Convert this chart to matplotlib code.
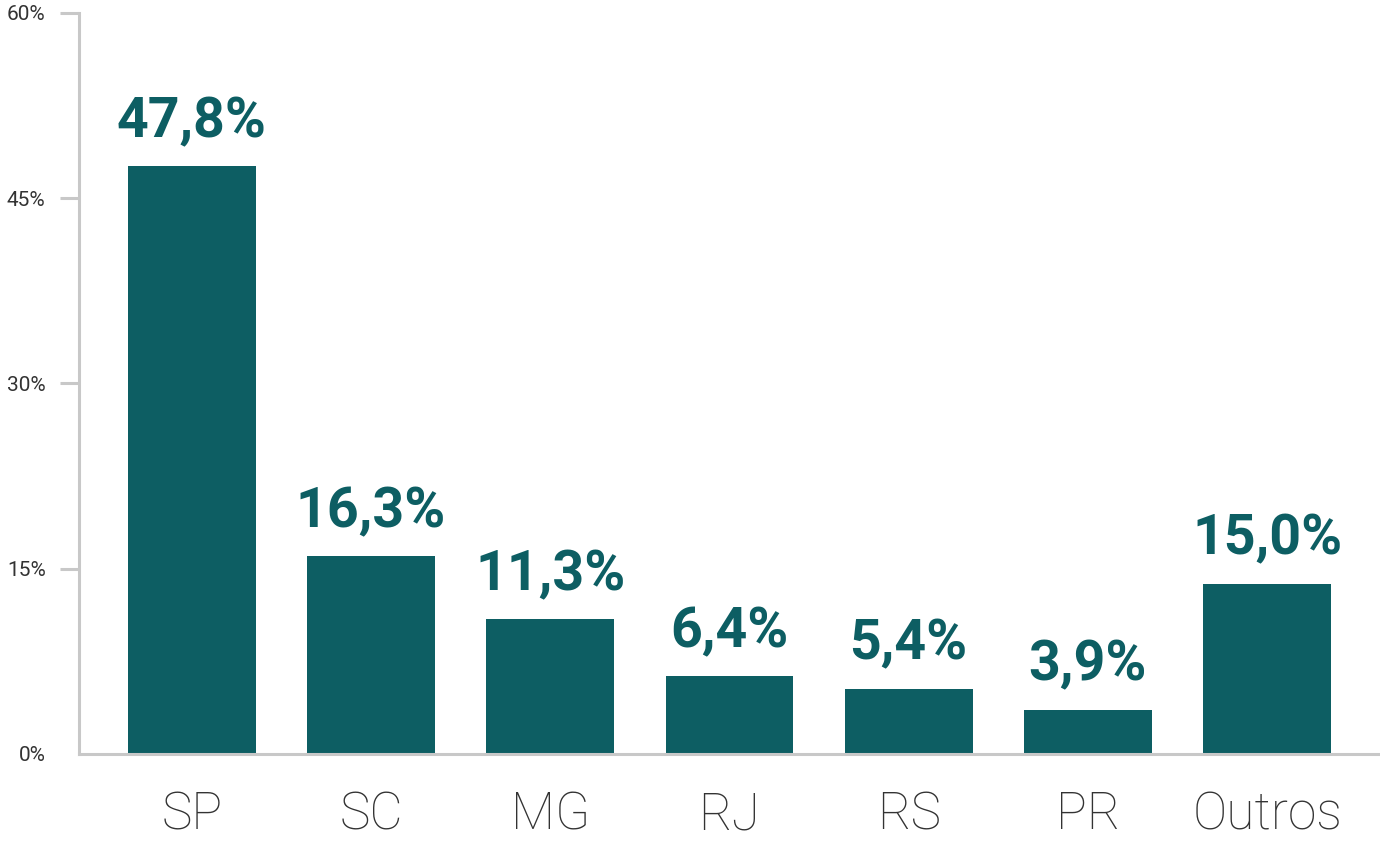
import matplotlib.pyplot as plt

# Data
states = ["SP", "SC", "MG", "RJ", "RS", "PR", "Outros"]
bar_values = [47.6, 16.0, 10.9, 6.3, 5.3, 3.6, 13.8]
value_labels = ["47,8%", "16,3%", "11,3%", "6,4%", "5,4%", "3,9%", "15,0%"]
y_ticks = [0, 15, 30, 45, 60]
y_tick_labels = ["0%", "15%", "30%", "45%", "60%"]

bar_color = "#0d5e63"
axis_color = "#c8c8c8"
text_color = "#333333"

plt.rcParams['font.family'] = ['Roboto', 'DejaVu Sans']

fig = plt.figure(figsize=(13.8, 8.43), dpi=100)
ax = fig.add_axes([0.0572, 0.1056, 0.9428, 0.879])

x = range(len(states))
bars = ax.bar(x, bar_values, width=0.713, color=bar_color)

for rect, lab in zip(bars, value_labels):
    ax.annotate(lab, (rect.get_x() + rect.get_width() / 2, rect.get_height()),
                xytext=(0, 21), textcoords="offset points",
                ha="center", va="baseline", fontsize=40, fontweight="bold",
                color=bar_color)

ax.set_xlim(-0.63, len(states) - 1 + 0.63)
ax.set_ylim(0, 60)
ax.set_yticks(y_ticks)
ax.set_yticklabels(y_tick_labels, fontsize=15, color=text_color)
ax.set_xticks(list(x))
ax.set_xticklabels(states, fontsize=37, color=text_color, fontweight="light")

for side in ["top", "right"]:
    ax.spines[side].set_visible(False)
for side in ["left", "bottom"]:
    ax.spines[side].set_color(axis_color)
    ax.spines[side].set_linewidth(2.2)

ax.tick_params(axis="y", length=14, width=2.2, color=axis_color, pad=10)
ax.tick_params(axis="x", length=0, pad=26)
# no tick mark at 0%
ax.yaxis.get_major_ticks()[0].tick1line.set_visible(False)

fig.savefig("out.png", dpi=100)
